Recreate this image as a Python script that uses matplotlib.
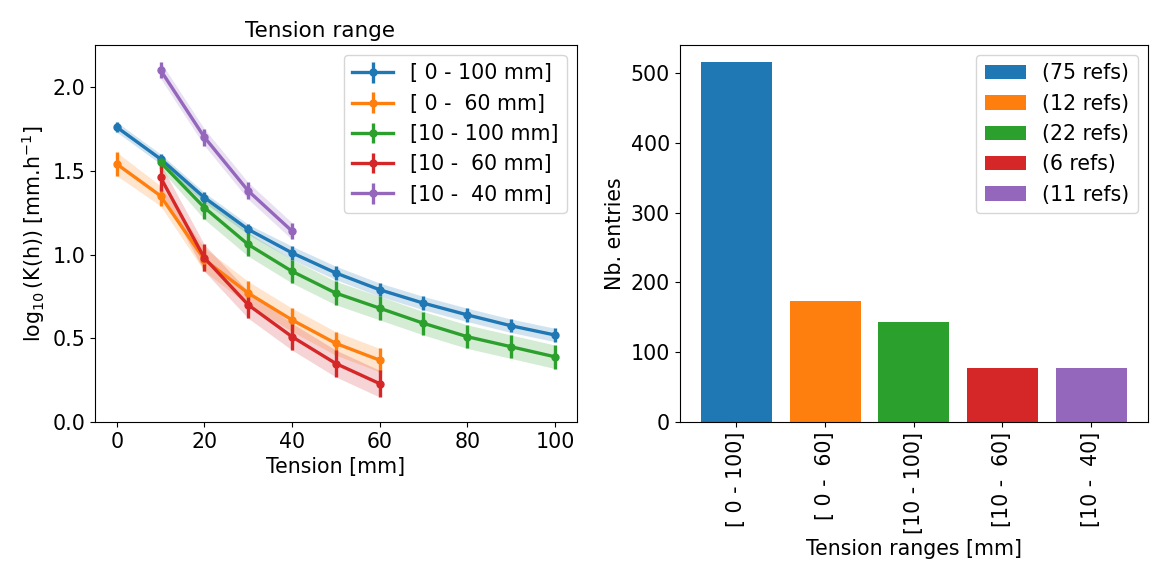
import matplotlib
matplotlib.use("Agg")
import matplotlib.pyplot as plt
import numpy as np

plt.rcParams['font.size'] = 14.8

labels = ["[ 0 - 100 mm]", "[ 0 -  60 mm]", "[10 - 100 mm]", "[10 -  60 mm]", "[10 -  40 mm]"]
x_blue = [0, 10, 20, 30, 40, 50, 60, 70, 80, 90, 100]
y_blue = [1.76, 1.57, 1.34, 1.15, 1.01, 0.89, 0.79, 0.71, 0.64, 0.575, 0.52]
e_blue = [0.03, 0.03, 0.03, 0.03, 0.04, 0.04, 0.04, 0.04, 0.04, 0.04, 0.04]
x_orange = [0, 10, 20, 30, 40, 50, 60]
y_orange = [1.54, 1.35, 0.97, 0.77, 0.61, 0.47, 0.37]
e_orange = [0.07, 0.06, 0.07, 0.07, 0.07, 0.07, 0.07]
x_green = [10, 20, 30, 40, 50, 60, 70, 80, 90, 100]
y_green = [1.55, 1.28, 1.06, 0.90, 0.77, 0.68, 0.59, 0.51, 0.45, 0.39]
e_green = [0.04, 0.07, 0.07, 0.07, 0.07, 0.07, 0.07, 0.07, 0.07, 0.07]
x_red = [10, 20, 30, 40, 50, 60]
y_red = [1.46, 0.98, 0.70, 0.51, 0.35, 0.23]
e_red = [0.08, 0.08, 0.08, 0.08, 0.08, 0.08]
x_purple = [10, 20, 30, 40]
y_purple = [2.10, 1.70, 1.38, 1.14]
e_purple = [0.05, 0.05, 0.05, 0.05]

bar_cats = ["[ 0 - 100]", "[ 0 -  60]", "[10 - 100]", "[10 -  60]", "[10 -  40]"]
bar_counts = [515, 173, 144, 78, 77]
bar_refs = ["(75 refs)", "(12 refs)", "(22 refs)", "(6 refs)", "(11 refs)"]

colors = ['#1f77b4', '#ff7f0e', '#2ca02c', '#d62728', '#9467bd']

fig = plt.figure(figsize=(11.56, 5.69), dpi=100)
ax1 = fig.add_axes([0.082, 0.258, 0.417, 0.663])
ax2 = fig.add_axes([0.588, 0.258, 0.405, 0.663])

series = [(x_blue, y_blue, e_blue), (x_orange, y_orange, e_orange), (x_green, y_green, e_green),
          (x_red, y_red, e_red), (x_purple, y_purple, e_purple)]
for (x, y, e), c, lab in zip(series, colors, labels):
    x = np.array(x); y = np.array(y); e = np.array(e)
    ax1.fill_between(x, y - e, y + e, color=c, alpha=0.2, lw=0)
    ax1.errorbar(x, y, yerr=e, color=c, marker='o', ms=5, lw=2.4, elinewidth=2.4, label=lab)

ax1.set_ylim(0, 2.25)
ax1.set_xlim(-5, 105)
ax1.set_yticks([0, 0.5, 1.0, 1.5, 2.0])
ax1.set_xlabel("Tension [mm]")
ax1.set_ylabel(r"$\log_{10}$(K(h)) [mm.h$^{-1}$]")
ax1.set_title("Tension range", fontsize=15.5, x=0.468)
ax1.legend(loc='upper right')

xs = np.arange(len(bar_cats))
bars = ax2.bar(xs, bar_counts, color=colors, width=0.8)
for b, lab in zip(bars, bar_refs):
    b.set_label(lab)
ax2.set_xticks(xs)
ax2.set_xticklabels(bar_cats, rotation=90)
ax2.set_xlabel("Tension ranges [mm]")
ax2.set_ylabel("Nb. entries")
ax2.set_ylim(0, 540)
ax2.legend(loc='upper right')

fig.savefig("out.png", dpi=100)
